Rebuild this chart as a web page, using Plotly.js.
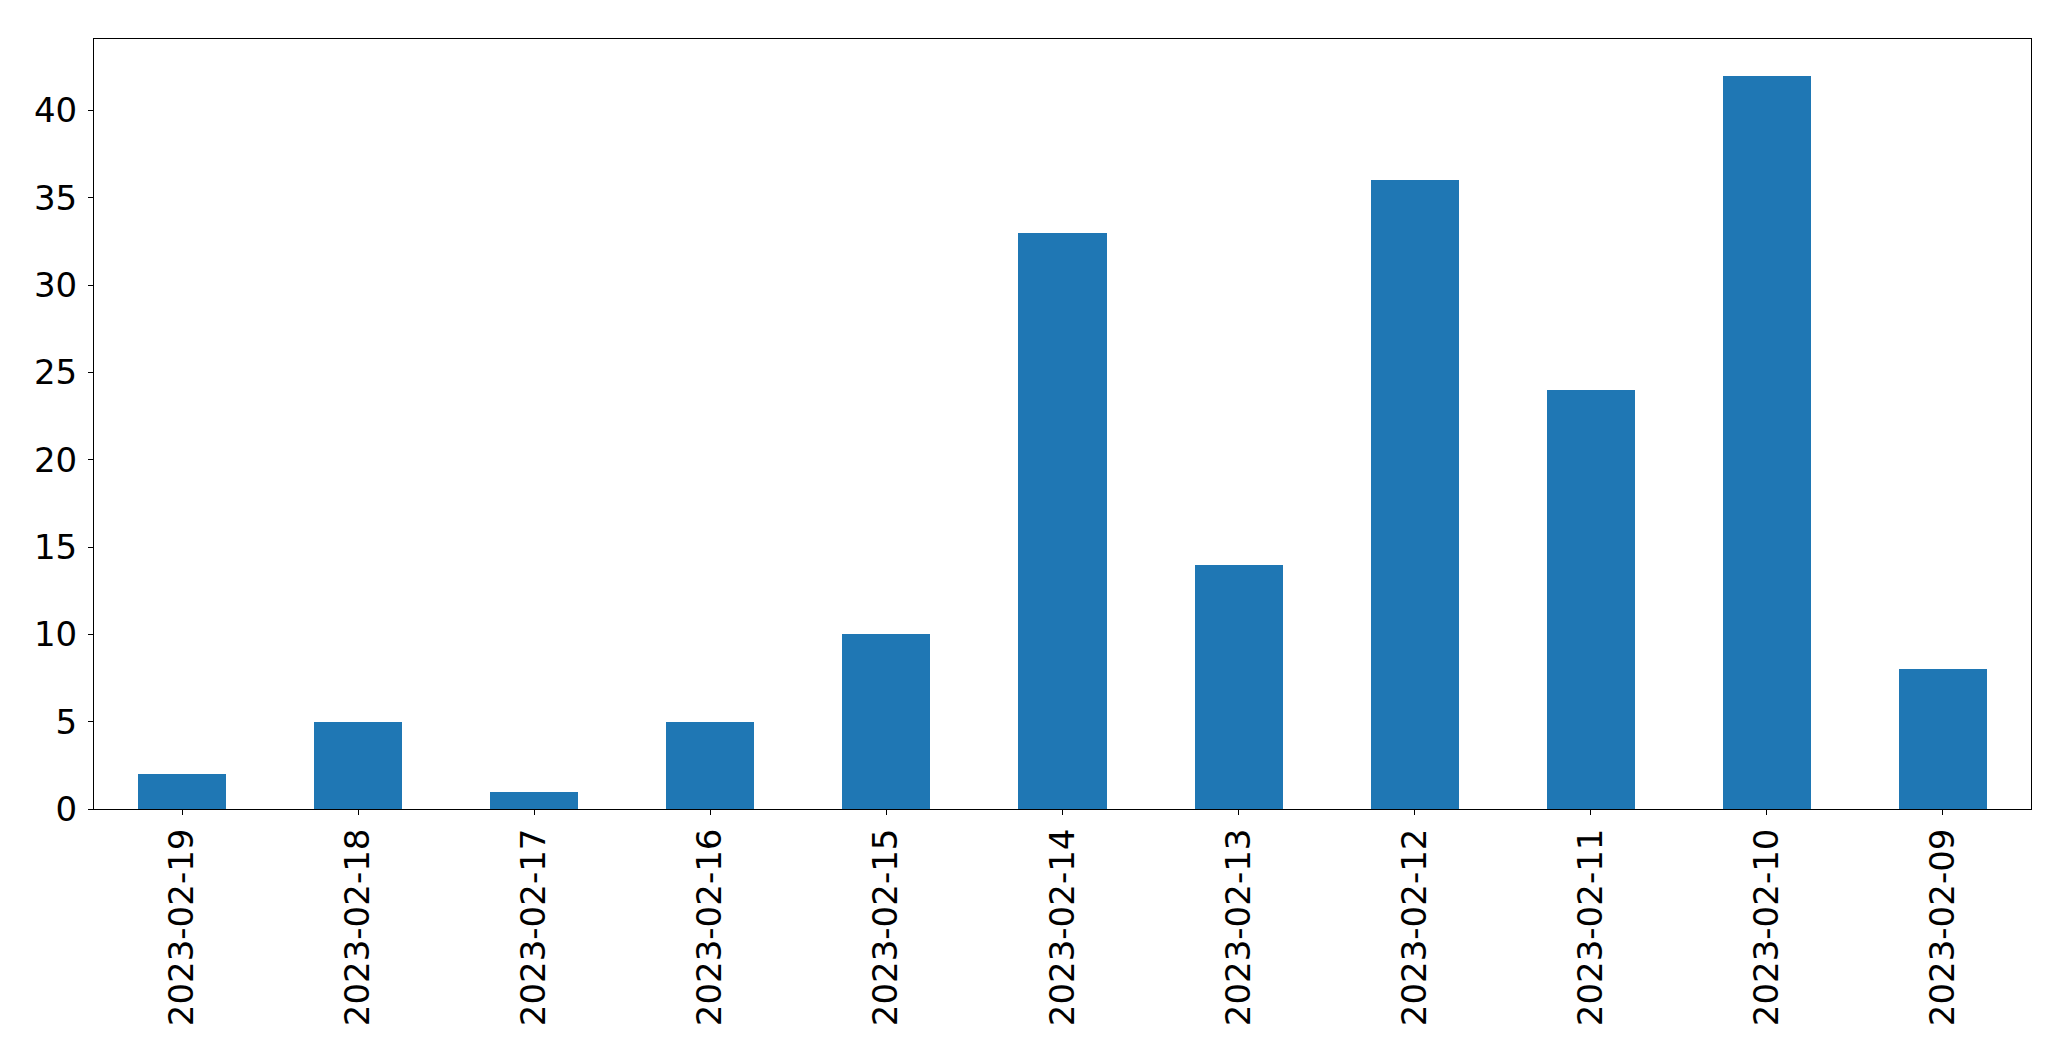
<!DOCTYPE html>
<html>
<head>
<meta charset="utf-8">
<script src="https://cdn.plot.ly/plotly-3.0.1.min.js"></script>
<style>html,body{margin:0;padding:0;background:#fff;}#chart{width:2071px;height:1061px;}</style>
</head>
<body>
<div id="chart"></div>
<script>
const dates = ["2023-02-19","2023-02-18","2023-02-17","2023-02-16","2023-02-15","2023-02-14","2023-02-13","2023-02-12","2023-02-11","2023-02-10","2023-02-09"];
const counts = [2,5,1,5,10,33,14,36,24,42,8];
const yTicks = [0,5,10,15,20,25,30,35,40];

const trace = {
  type: 'bar',
  x: dates,
  y: counts,
  width: 0.5,
  marker: {color: '#1f77b4', line: {width: 0}},
  hoverinfo: 'none'
};

const layout = {
  width: 2071,
  height: 1061,
  margin: {l: 94, r: 40, t: 39, b: 252, pad: 0},
  paper_bgcolor: '#ffffff',
  plot_bgcolor: '#ffffff',
  font: {family: 'DejaVu Sans', size: 34, color: '#000000'},
  showlegend: false,
  bargap: 0,
  xaxis: {
    type: 'category',
    range: [-0.5, 10.5],
    tickangle: -90,
    ticks: 'outside',
    ticklen: 5,
    tickwidth: 1,
    tickcolor: '#000',
    showline: true,
    linecolor: '#000',
    linewidth: 1,
    mirror: true,
    showgrid: false,
    zeroline: false,
    ticklabelstandoff: 0,
    tickfont: {family: 'DejaVu Sans', size: 34, color: '#000'}
  },
  yaxis: {
    range: [0, 44.1],
    tickvals: yTicks,
    ticktext: yTicks.map(String),
    ticks: 'outside',
    ticklen: 5,
    tickwidth: 1,
    tickcolor: '#000',
    showline: true,
    linecolor: '#000',
    linewidth: 1,
    mirror: true,
    showgrid: false,
    zeroline: false,
    ticklabelstandoff: 4,
    tickfont: {family: 'DejaVu Sans', size: 34, color: '#000'}
  }
};

Plotly.newPlot('chart', [trace], layout, {staticPlot: true, displayModeBar: false});
</script>
</body>
</html>
